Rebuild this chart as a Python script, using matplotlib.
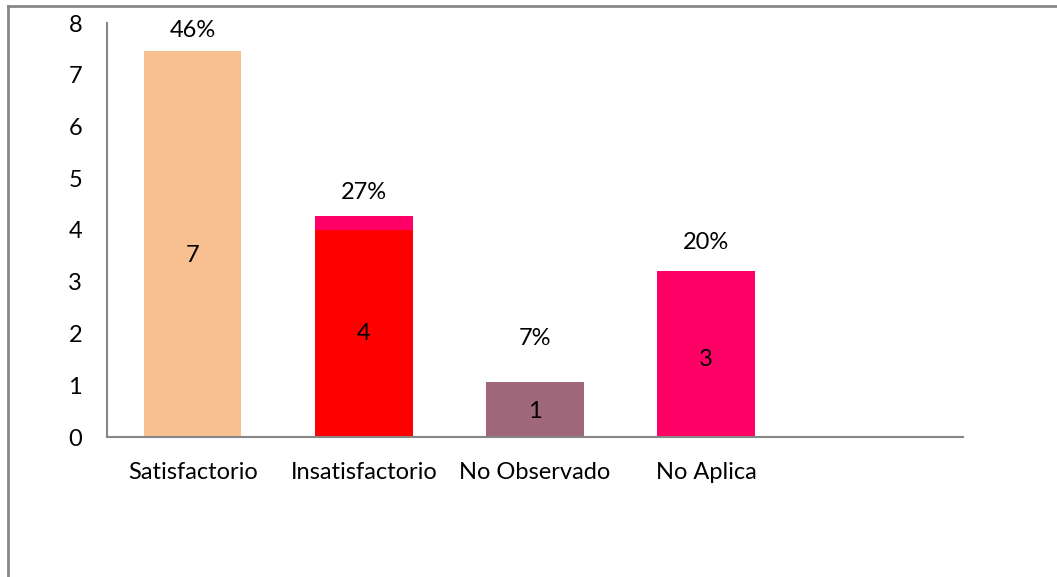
import matplotlib
matplotlib.use("Agg")
import matplotlib.pyplot as plt
from matplotlib.lines import Line2D

plt.rcParams['font.family'] = ['Lato', 'DejaVu Sans']

categories = ["Satisfactorio", "Insatisfactorio", "No Observado", "No Aplica", ""]
counts = [7, 4, 1, 3, 0]
percents = [0.46, 0.27, 0.07, 0.20, 0]
percent_labels = ["46%", "27%", "7%", "20%", ""]
count_colors = ["#F8C091", "#FF0000", "#A0667A", "#FF0066", "#FFFFFF"]
percent_colors = ["#F8C091", "#FF0066", "#A0667A", "#FF0066", "#FFFFFF"]
# vertical offset (data units) of the percent labels above each bar top
pct_label_offsets = [0.40, 0.46, 0.84, 0.55, 0]

FS = 17
W, H = 1057, 577
fig = plt.figure(figsize=(W / 100, H / 100), dpi=100)
ax = fig.add_axes([107 / W, 1 - 437 / H, (963 - 107) / W, (437 - 23) / H])

x = list(range(len(categories)))
bw = 0.57
ax.bar(x, counts, width=bw, color=count_colors, linewidth=0)
ax.bar(x, percents, bottom=counts, width=bw, color=percent_colors, linewidth=0)

for i in range(4):
    ax.text(x[i], counts[i] / 2, str(counts[i]), ha="center", va="center",
            fontsize=FS, color="black")
    ax.text(x[i], counts[i] + percents[i] + pct_label_offsets[i], percent_labels[i],
            ha="center", va="center", fontsize=FS, color="black")

ax.set_xlim(-0.5, 4.5)
ax.set_ylim(0, 8)
ax.set_yticks(range(0, 9))
ax.set_xticks(x)
ax.set_xticklabels(categories)
ax.tick_params(axis="both", length=0, labelsize=FS)
ax.tick_params(axis="y", pad=18)
ax.tick_params(axis="x", pad=18)
for s in ["top", "right"]:
    ax.spines[s].set_visible(False)
for s in ["left", "bottom"]:
    ax.spines[s].set_color("#868686")
    ax.spines[s].set_linewidth(1.5)

# chart border (left and top visible)
fig.add_artist(Line2D([8 / W, 8 / W], [0, 1 - 6 / H], transform=fig.transFigure,
                      color="#888888", lw=2))
fig.add_artist(Line2D([8 / W, 1], [1 - 6 / H, 1 - 6 / H], transform=fig.transFigure,
                      color="#888888", lw=2))

fig.savefig("out.png", dpi=100, facecolor="white")
